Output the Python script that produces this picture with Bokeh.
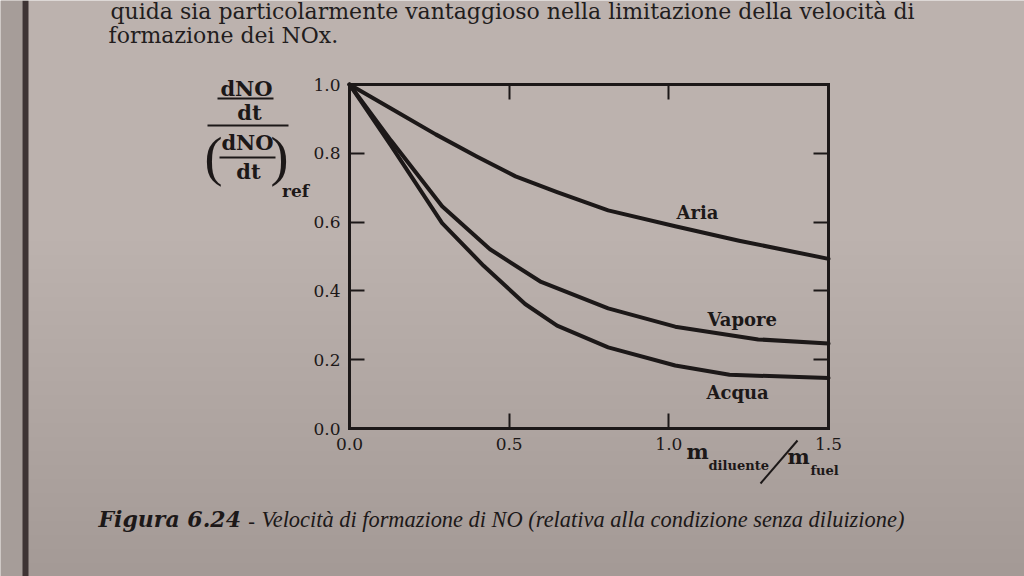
from bokeh.plotting import figure
from bokeh.models import Range1d, LinearAxis, FixedTicker, Label, Arrow, BoxAnnotation
from bokeh.embed import file_html
from bokeh.resources import INLINE

# ---- data ----
aria_x = [0.0, 0.13, 0.27, 0.40, 0.52, 0.65, 0.81, 1.02, 1.22, 1.50]
aria_y = [1.0, 0.93, 0.855, 0.79, 0.733, 0.687, 0.634, 0.588, 0.546, 0.493]

vapore_x = [0.0, 0.13, 0.29, 0.44, 0.60, 0.81, 1.02, 1.28, 1.50]
vapore_y = [1.0, 0.837, 0.646, 0.521, 0.426, 0.349, 0.296, 0.259, 0.247]

acqua_x = [0.0, 0.13, 0.29, 0.42, 0.55, 0.65, 0.81, 1.02, 1.19, 1.50]
acqua_y = [1.0, 0.822, 0.597, 0.473, 0.362, 0.299, 0.236, 0.183, 0.156, 0.147]

x_ticks = [0.0, 0.5, 1.0, 1.5]
y_ticks = [0.0, 0.2, 0.4, 0.6, 0.8, 1.0]
x_tick_labels = {0.0: "0.0", 0.5: "0.5", 1.0: "1.0", 1.5: "1.5"}
y_tick_labels = {0.0: "0.0", 0.2: "0.2", 0.4: "0.4", 0.6: "0.6", 0.8: "0.8", 1.0: "1.0"}

series_names = ["Aria", "Vapore", "Acqua"]

caption_bold = "Figura 6.24"
caption_rest = "Velocità di formazione di NO (relativa alla condizione senza diluizione)"
body_line1 = "quida sia particolarmente vantaggioso nella limitazione della velocità di"
body_line2 = "formazione dei NOx."

# ---- layout (pixel geometry of the page) ----
W, H = 1024, 576
X0, X1, Y0, Y1 = 349, 828, 428, 84   # pixel positions of x=0, x=1.5, y=0, y=1
XMAX, YMAX = 1.5, 1.0
INK = "#1c1818"
PAGE = "#bcb2ae"

def dx(px):
    return (px - X0) / (X1 - X0) * XMAX

def dy(py):
    return (Y0 - py) / (Y0 - Y1) * YMAX

p = figure(width=W, height=H, output_backend="svg", toolbar_location=None,
           x_range=Range1d(dx(0), dx(W)), y_range=Range1d(dy(H), dy(0)),
           x_axis_location=None, y_axis_location=None, min_border=0)
p.background_fill_color = PAGE
p.border_fill_color = PAGE
p.outline_line_color = None
p.xgrid.visible = False
p.ygrid.visible = False

# gentle darkening of the photographed page towards the bottom
for i in range(24):
    top = 240 + i * 14
    p.add_layout(BoxAnnotation(left=dx(0), right=dx(W), bottom=dy(H), top=dy(top),
                               fill_color="#000000", fill_alpha=0.0035, line_color=None,
                               level="underlay"))

def make_axis(ticks, labels, show, loc, bounds):
    ax = LinearAxis(ticker=FixedTicker(ticks=ticks), fixed_location=loc, bounds=bounds)
    ax.axis_line_color = INK
    ax.axis_line_width = 3
    ax.axis_line_cap = "square"
    ax.major_tick_in = 15
    ax.major_tick_out = 0
    ax.major_tick_line_color = INK
    ax.major_tick_line_width = 2
    ax.minor_tick_line_color = None
    ax.major_label_overrides = labels
    ax.major_label_text_font = "DejaVu Serif"
    ax.major_label_text_font_size = "17px"
    ax.major_label_text_color = INK if show else None
    ax.major_label_standoff = 9
    return ax

p.add_layout(make_axis(y_ticks, y_tick_labels, True, 0.0, (0.0, YMAX)), "left")
p.add_layout(make_axis(y_ticks, {}, False, XMAX, (0.0, YMAX)), "right")
p.add_layout(make_axis(x_ticks, x_tick_labels, True, 0.0, (0.0, XMAX)), "below")
p.add_layout(make_axis(x_ticks, {}, False, YMAX, (0.0, XMAX)), "above")

for xs, ys in [(aria_x, aria_y), (vapore_x, vapore_y), (acqua_x, acqua_y)]:
    p.line(xs, ys, line_color=INK, line_width=4, line_join="round", line_cap="round")

def lab(px, py, text, size, style="normal", font="DejaVu Serif", align="center", color=INK):
    p.add_layout(Label(x=dx(px), y=dy(py), text=text, text_font=font,
                       text_font_style=style, text_font_size=size, text_color=color,
                       text_baseline="middle", text_align=align))

def seg(x1, y1, x2, y2, w=2):
    p.add_layout(Arrow(start=None, end=None, x_start=dx(x1), y_start=dy(y1),
                       x_end=dx(x2), y_end=dy(y2), line_color=INK, line_width=w))

# series labels
for name, (lx, ly) in zip(series_names, [(676, 212), (707, 319), (706, 392)]):
    lab(lx, ly, name, "18px", "bold", align="left")

# y-axis label (fraction)
lab(246, 88, "dNO", "21px", "bold")
seg(217, 98, 273, 98)
lab(249, 112, "dt", "21px", "bold")
seg(207, 125, 288, 125)
lab(213, 156, "(", "54px", "normal", "Liberation Serif")
lab(279, 156, ")", "54px", "normal", "Liberation Serif")
lab(247, 142, "dNO", "21px", "bold")
seg(219, 157, 275, 157)
lab(248, 171, "dt", "21px", "bold")
lab(295, 190, "ref", "17px", "bold")

# x-axis label
lab(697, 451, "m", "21px", "bold")
lab(708, 465, "diluente", "13px", "bold", align="left")
seg(760, 483, 797, 440)
lab(798, 456, "m", "21px", "bold")
lab(810, 470, "fuel", "13px", "bold", align="left")

# caption
lab(98, 518, caption_bold, "22px", "bold italic", align="left")
lab(251, 520, "-", "20px", "italic", "Liberation Serif")
lab(261, 519, caption_rest, "22.4px", "italic", "Liberation Serif", align="left")

# body text of the page
lab(110, 11, body_line1, "22px", align="left", color="#221d1d")
lab(108, 35, body_line2, "22px", align="left", color="#221d1d")

# binding shadow on the left
p.add_layout(BoxAnnotation(left=dx(0), right=dx(22), bottom=dy(H), top=dy(0),
                           fill_color="#a69d99", fill_alpha=1, line_color=None, level="underlay"))
p.add_layout(BoxAnnotation(left=dx(22), right=dx(28), bottom=dy(H), top=dy(0),
                           fill_color="#3e3434", fill_alpha=1, line_color=None, level="underlay"))

open("out.html", "w").write(file_html(p, INLINE))
